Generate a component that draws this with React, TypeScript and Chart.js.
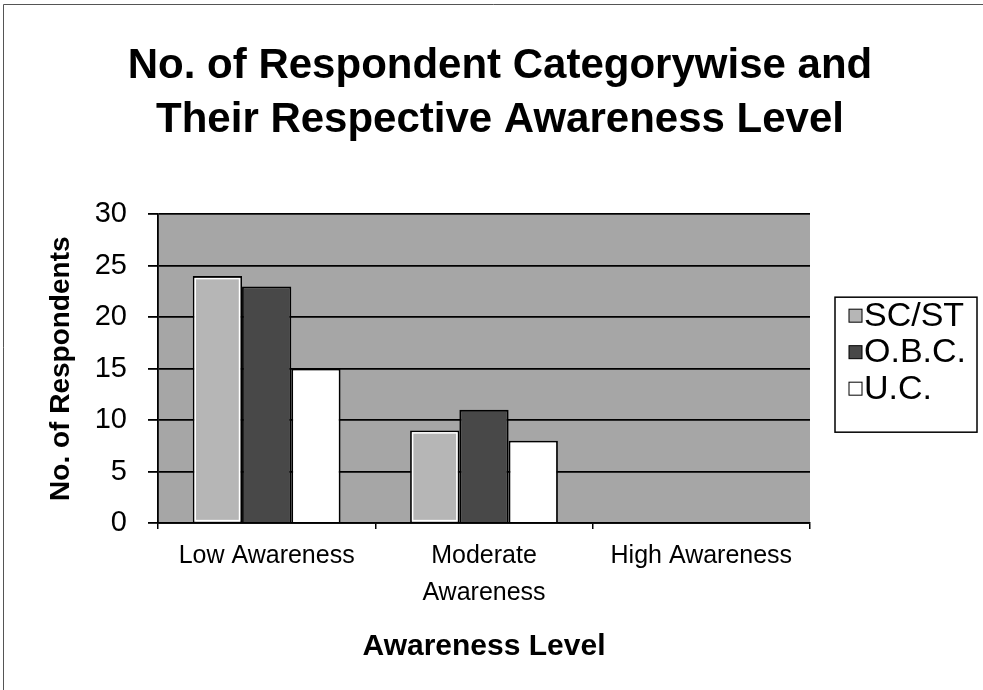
import React, { useEffect, useRef } from 'react';
import { Chart, registerables } from 'chart.js';

Chart.register(...registerables);

const FONT = "'Liberation Sans', Arial, Helvetica, sans-serif";

const titleLines = ['No. of Respondent Categorywise and', 'Their Respective Awareness Level'];
const categories: (string | string[])[] = ['Low Awareness', ['Moderate', 'Awareness'], 'High Awareness'];
const seriesNames = ['SC/ST', 'O.B.C.', 'U.C.'];
const scstValues = [24, 9, 0];
const obcValues = [23, 11, 0];
const ucValues = [15, 8, 0];
const yMin = 0;
const yMax = 30;
const yStep = 5;
const xAxisTitle = 'Awareness Level';
const yAxisTitle = 'No. of Respondents';

const seriesFill = ['#b6b6b6', '#484848', '#ffffff'];
const plotFill = '#a6a6a6';

const framePlugin = {
  id: 'framePlugin',
  beforeDraw(chart: any) {
    const { ctx, chartArea: a } = chart;
    ctx.save();
    ctx.fillStyle = '#ffffff';
    ctx.fillRect(0, 0, chart.width, chart.height);
    ctx.strokeStyle = '#555';
    ctx.lineWidth = 1;
    ctx.beginPath();
    ctx.moveTo(3.5, chart.height);
    ctx.lineTo(3.5, 4.5);
    ctx.lineTo(chart.width, 4.5);
    ctx.stroke();
    ctx.fillStyle = plotFill;
    ctx.fillRect(a.left, a.top, a.right - a.left, a.bottom - a.top);
    ctx.restore();
  },
};

// white inner outline on the first series' bars (as in the reference)
const innerOutlinePlugin = {
  id: 'innerOutlinePlugin',
  afterDatasetsDraw(chart: any) {
    const { ctx } = chart;
    const meta = chart.getDatasetMeta(0);
    ctx.save();
    ctx.strokeStyle = '#ffffff';
    ctx.lineWidth = 1.5;
    meta.data.forEach((bar: any) => {
      const { x, y, base, width } = bar.getProps(['x', 'y', 'base', 'width'], true);
      const h = base - y;
      if (h < 6) return;
      ctx.strokeRect(x - width / 2 + 2.5, y + 2.5, width - 5, h - 4);
    });
    ctx.restore();
  },
};

const legendPlugin = {
  id: 'legendPlugin',
  afterDraw(chart: any) {
    const { ctx, chartArea: a } = chart;
    const w = 142;
    const h = 135;
    const x = a.right + 25;
    const y = (a.top + a.bottom) / 2 - h / 2 - 4;
    ctx.save();
    ctx.fillStyle = '#ffffff';
    ctx.fillRect(x, y, w, h);
    ctx.strokeStyle = '#000';
    ctx.lineWidth = 1.5;
    ctx.strokeRect(x, y, w, h);
    ctx.font = `34px ${FONT}`;
    ctx.textBaseline = 'middle';
    ctx.textAlign = 'left';
    chart.data.datasets.forEach((ds: any, i: number) => {
      const cy = y + 18 + i * 36.5;
      ctx.fillStyle = ds.backgroundColor;
      ctx.fillRect(x + 14, cy - 6, 13, 13);
      ctx.strokeStyle = '#000';
      ctx.lineWidth = 1;
      ctx.strokeRect(x + 14, cy - 6, 13, 13);
      ctx.fillStyle = '#000';
      ctx.fillText(ds.label, x + 29, cy + 1);
    });
    ctx.restore();
  },
};

export default function App() {
  const ref = useRef<HTMLCanvasElement | null>(null);

  useEffect(() => {
    if (!ref.current) return;
    const values = [scstValues, obcValues, ucValues];
    const chart = new Chart(ref.current, {
      type: 'bar',
      data: {
        labels: categories,
        datasets: seriesNames.map((name, i) => ({
          label: name,
          data: values[i],
          backgroundColor: seriesFill[i],
          borderColor: '#000',
          borderWidth: 1.8,
          categoryPercentage: 0.68,
          barPercentage: 1.0,
          yAxisID: 'y',
        })),
      },
      options: {
        responsive: false,
        animation: false,
        layout: { padding: { left: 17, right: 0, top: 0, bottom: 0 } },
        plugins: {
          legend: { display: false },
          tooltip: { enabled: false },
          title: {
            display: true,
            text: titleLines,
            color: '#000',
            font: { family: FONT, size: 42, weight: 'bold', lineHeight: 1.29 },
            padding: { top: 39, bottom: 67 },
          },
        },
        scales: {
          x: {
            offset: true,
            grid: {
              display: true,
              offset: true,
              drawOnChartArea: false,
              drawTicks: true,
              tickLength: 6,
              color: '#000',
              lineWidth: 1.5,
            },
            border: { display: true, color: '#000', width: 1.8 },
            ticks: {
              color: '#000',
              padding: 8,
              maxRotation: 0,
              autoSkip: false,
              font: { family: FONT, size: 25, lineHeight: 1.5 },
            },
            title: {
              display: true,
              text: xAxisTitle,
              color: '#000',
              font: { family: FONT, size: 30, weight: 'bold', lineHeight: 1.2 },
              padding: { top: 10, bottom: 25 },
            },
            afterFit(scale: any) {
              scale.height = 167;
            },
          },
          y: {
            position: 'left',
            min: yMin,
            max: yMax,
            grid: {
              color: '#000',
              lineWidth: 1.8,
              tickLength: 10,
              drawTicks: true,
            },
            border: { display: true, color: '#000', width: 1.8 },
            ticks: {
              stepSize: yStep,
              color: '#000',
              padding: 21,
              font: { family: FONT, size: 29 },
            },
            title: {
              display: true,
              text: yAxisTitle,
              color: '#000',
              font: { family: FONT, size: 28, weight: 'bold', lineHeight: 1.2 },
              padding: { top: 27, bottom: 0 },
            },
            afterFit(scale: any) {
              scale.width = 141;
            },
          },
          legendSpace: {
            position: 'right',
            display: true,
            grid: { display: false },
            border: { display: false },
            ticks: { display: false },
            afterFit(scale: any) {
              scale.width = 173;
            },
          },
        },
      },
      plugins: [framePlugin, innerOutlinePlugin, legendPlugin],
    } as any);
    return () => chart.destroy();
  }, []);

  return (
    <div style={{ position: 'fixed', left: 0, top: 0, width: 983, height: 690, background: '#fff' }}>
      <canvas ref={ref} width={983} height={690} style={{ display: 'block' }} />
    </div>
  );
}
